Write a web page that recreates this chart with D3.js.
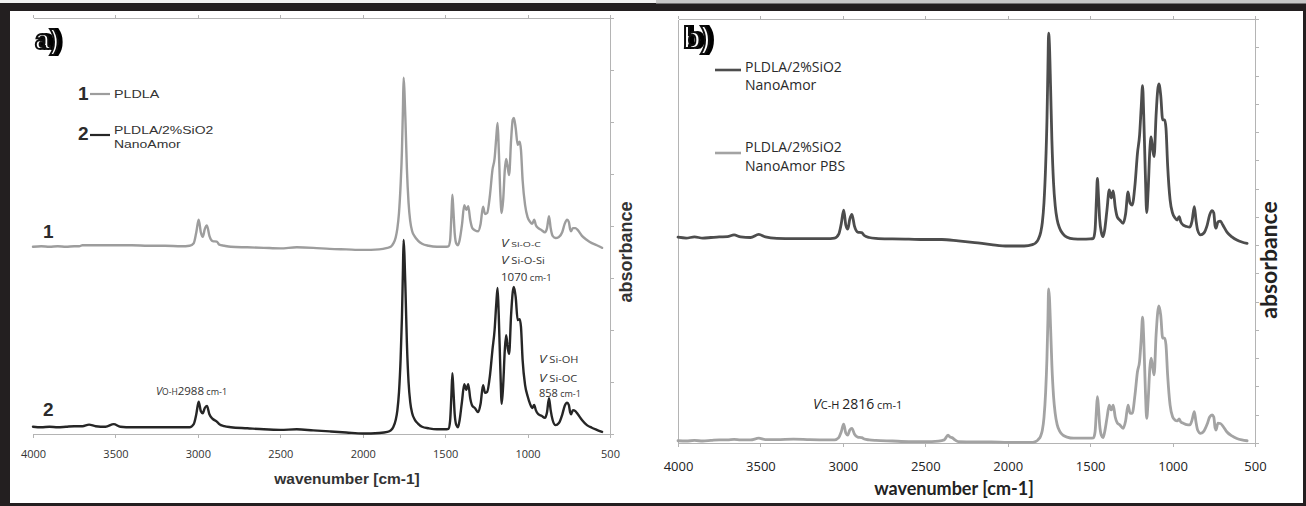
<!DOCTYPE html>
<html>
<head>
<meta charset="utf-8">
<script src="https://cdn.jsdelivr.net/npm/d3@7"></script>
<style>
  html, body { margin: 0; padding: 0; background: #231f20; overflow: hidden; }
  svg { display: block; }
</style>
</head>
<body>
<svg id="fig" width="1306" height="506"></svg>
<script>
// FTIR spectra: wavenumber [cm-1] vs absorbance (arbitrary units, stacked)
const wavenumberTicks = [4000, 3500, 3000, 2500, 2000, 1500, 1000, 500];

// a) 1 – PLDLA
const pldla = [[4000,3.60],[3950,3.61],[3900,3.60],[3850,3.61],[3800,3.60],[3750,3.61],[3720,3.61],[3700,3.63],[3600,3.63],[3500,3.63],[3400,3.63],[3300,3.62],[3200,3.62],[3100,3.61],[3050,3.62],[3025,3.67],[3010,3.87],[2995,4.12],[2982,3.88],[2970,3.79],[2958,3.94],[2945,4.01],[2930,3.81],[2910,3.71],[2885,3.70],[2870,3.64],[2840,3.62],[2800,3.60],[2700,3.59],[2600,3.58],[2500,3.57],[2400,3.59],[2300,3.58],[2200,3.56],[2100,3.55],[2000,3.54],[1900,3.55],[1850,3.58],[1830,3.60],[1815,3.66],[1800,3.78],[1790,3.95],[1780,4.25],[1770,4.80],[1762,5.45],[1756,6.25],[1752,6.85],[1747,6.60],[1740,5.95],[1732,5.10],[1722,4.45],[1712,4.10],[1700,3.90],[1685,3.80],[1665,3.72],[1640,3.66],[1600,3.62],[1550,3.60],[1500,3.60],[1480,3.61],[1470,3.72],[1462,4.20],[1456,4.60],[1450,4.30],[1442,3.86],[1432,3.66],[1422,3.63],[1412,3.73],[1398,4.02],[1384,4.40],[1372,4.31],[1360,4.38],[1348,4.12],[1335,3.96],[1320,3.92],[1300,3.90],[1285,4.04],[1270,4.37],[1258,4.23],[1245,4.25],[1228,4.60],[1213,5.08],[1200,5.30],[1190,5.70],[1182,5.98],[1175,5.50],[1165,4.60],[1157,4.25],[1148,4.50],[1138,5.08],[1130,5.29],[1120,5.12],[1112,4.98],[1100,5.65],[1090,6.04],[1083,6.08],[1072,5.88],[1060,5.56],[1048,5.62],[1040,5.46],[1030,4.88],[1015,4.40],[1000,4.17],[985,4.08],[972,4.04],[960,4.12],[950,4.02],[935,3.96],[915,3.92],[895,3.88],[882,3.96],[870,4.19],[860,3.96],[848,3.81],[830,3.77],[810,3.79],[790,3.88],[775,4.04],[760,4.12],[750,4.08],[742,3.94],[736,3.90],[725,3.96],[710,3.96],[695,3.92],[670,3.81],[640,3.73],[610,3.67],[580,3.63],[548,3.58]];

// a) 2 – PLDLA/2%SiO2 NanoAmor
const pldlaSiO2 = [[4000,0.14],[3950,0.13],[3900,0.14],[3850,0.13],[3800,0.14],[3750,0.15],[3700,0.15],[3660,0.18],[3620,0.15],[3560,0.14],[3510,0.19],[3470,0.14],[3400,0.13],[3300,0.13],[3200,0.13],[3100,0.13],[3050,0.13],[3025,0.19],[3010,0.37],[2995,0.62],[2982,0.44],[2970,0.40],[2958,0.50],[2945,0.54],[2930,0.38],[2910,0.29],[2885,0.24],[2870,0.19],[2840,0.15],[2800,0.13],[2700,0.11],[2600,0.09],[2500,0.08],[2400,0.09],[2300,0.07],[2200,0.05],[2100,0.03],[2000,0.01],[1900,0.02],[1850,0.04],[1830,0.07],[1815,0.13],[1800,0.27],[1790,0.45],[1780,0.80],[1770,1.45],[1762,2.25],[1756,3.15],[1752,3.73],[1747,3.45],[1740,2.70],[1732,1.75],[1722,1.00],[1712,0.62],[1700,0.40],[1685,0.28],[1665,0.20],[1640,0.14],[1600,0.11],[1550,0.09],[1500,0.09],[1480,0.10],[1470,0.25],[1462,0.75],[1456,1.17],[1450,0.85],[1442,0.38],[1432,0.17],[1422,0.13],[1412,0.27],[1398,0.62],[1384,0.96],[1372,0.85],[1360,0.96],[1348,0.69],[1335,0.54],[1320,0.50],[1300,0.42],[1285,0.58],[1270,0.94],[1258,0.79],[1245,0.81],[1228,1.13],[1213,1.62],[1200,2.00],[1190,2.50],[1182,2.81],[1175,2.30],[1165,1.23],[1157,0.58],[1148,0.94],[1138,1.62],[1130,1.90],[1120,1.65],[1112,1.54],[1100,2.29],[1090,2.73],[1083,2.83],[1072,2.63],[1060,2.19],[1048,2.21],[1040,2.06],[1030,1.42],[1015,0.94],[1000,0.73],[985,0.58],[972,0.50],[960,0.56],[950,0.46],[935,0.38],[915,0.35],[895,0.31],[882,0.42],[870,0.69],[860,0.46],[848,0.27],[830,0.17],[810,0.21],[790,0.37],[775,0.54],[760,0.60],[750,0.56],[742,0.42],[736,0.38],[725,0.46],[710,0.44],[695,0.38],[670,0.27],[640,0.17],[610,0.12],[580,0.08],[548,0.04]];

// b) PLDLA/2%SiO2 NanoAmor
const nanoAmor = [[4000,7.28],[3950,7.25],[3900,7.29],[3850,7.25],[3800,7.27],[3750,7.29],[3700,7.30],[3660,7.36],[3620,7.29],[3560,7.27],[3510,7.38],[3470,7.29],[3400,7.24],[3300,7.23],[3200,7.23],[3100,7.23],[3050,7.25],[3025,7.39],[3010,7.75],[2995,8.24],[2982,7.71],[2970,7.57],[2958,7.92],[2945,8.09],[2930,7.68],[2910,7.46],[2885,7.44],[2870,7.34],[2840,7.27],[2800,7.24],[2700,7.22],[2600,7.21],[2500,7.20],[2400,7.20],[2300,7.15],[2200,7.09],[2100,7.02],[2000,6.97],[1900,6.97],[1850,7.02],[1830,7.08],[1815,7.20],[1800,7.45],[1790,7.80],[1780,8.50],[1770,9.80],[1762,11.40],[1756,13.30],[1752,14.50],[1747,14.10],[1740,12.60],[1732,10.70],[1722,9.20],[1712,8.40],[1700,7.90],[1685,7.60],[1665,7.40],[1640,7.28],[1600,7.22],[1550,7.21],[1500,7.22],[1480,7.24],[1470,7.55],[1462,8.60],[1456,9.36],[1450,8.80],[1442,7.90],[1432,7.45],[1422,7.30],[1412,7.53],[1398,8.24],[1384,8.95],[1372,8.67],[1360,8.92],[1348,8.35],[1335,7.99],[1320,7.89],[1300,7.77],[1285,8.10],[1270,8.88],[1258,8.49],[1245,8.42],[1228,9.13],[1213,10.25],[1200,10.90],[1190,11.90],[1182,12.64],[1175,11.60],[1165,9.48],[1157,8.15],[1148,8.95],[1138,10.36],[1130,10.83],[1120,10.36],[1112,10.13],[1100,11.60],[1090,12.49],[1083,12.70],[1072,12.31],[1060,11.43],[1048,11.43],[1040,11.14],[1030,9.83],[1015,8.60],[1000,8.13],[985,7.96],[972,7.89],[960,8.01],[950,7.82],[935,7.71],[915,7.66],[895,7.64],[882,7.85],[868,8.36],[858,7.89],[848,7.53],[830,7.36],[810,7.43],[790,7.71],[775,8.07],[760,8.22],[750,8.14],[742,7.68],[736,7.60],[725,7.82],[710,7.85],[695,7.71],[670,7.46],[640,7.29],[610,7.18],[580,7.11],[548,7.06]];

// b) PLDLA/2%SiO2 NanoAmor PBS
const nanoAmorPBS = [[4000,0.08],[3950,0.07],[3900,0.09],[3850,0.07],[3800,0.09],[3750,0.11],[3700,0.11],[3660,0.13],[3620,0.11],[3560,0.11],[3510,0.17],[3470,0.12],[3400,0.12],[3300,0.14],[3200,0.12],[3100,0.11],[3050,0.11],[3025,0.19],[3010,0.39],[2995,0.67],[2982,0.35],[2970,0.28],[2958,0.46],[2945,0.52],[2930,0.32],[2910,0.21],[2885,0.19],[2870,0.14],[2840,0.11],[2800,0.09],[2700,0.07],[2600,0.05],[2500,0.05],[2420,0.07],[2385,0.11],[2362,0.28],[2350,0.21],[2338,0.19],[2320,0.11],[2300,0.05],[2200,0.04],[2100,0.04],[2000,0.02],[1900,0.02],[1850,0.02],[1830,0.05],[1815,0.12],[1800,0.25],[1790,0.45],[1780,0.90],[1770,1.80],[1762,3.00],[1756,4.40],[1752,5.45],[1747,5.15],[1740,4.10],[1732,2.75],[1722,1.65],[1712,1.05],[1700,0.65],[1685,0.42],[1665,0.28],[1640,0.21],[1600,0.17],[1550,0.17],[1500,0.17],[1480,0.18],[1470,0.40],[1462,1.15],[1456,1.64],[1450,1.30],[1442,0.62],[1432,0.27],[1422,0.19],[1412,0.39],[1398,0.88],[1384,1.34],[1372,1.17],[1360,1.34],[1348,0.92],[1335,0.71],[1320,0.64],[1300,0.52],[1285,0.78],[1270,1.34],[1258,1.06],[1245,1.05],[1228,1.70],[1213,2.52],[1200,2.90],[1190,3.70],[1182,4.45],[1175,3.70],[1165,1.87],[1157,0.87],[1148,1.52],[1138,2.65],[1130,3.00],[1120,2.65],[1112,2.41],[1100,3.82],[1090,4.63],[1083,4.85],[1072,4.53],[1060,3.71],[1048,3.71],[1040,3.47],[1030,2.41],[1015,1.34],[1000,0.93],[985,0.81],[972,0.78],[960,0.85],[950,0.74],[935,0.70],[915,0.65],[895,0.64],[882,0.81],[868,1.11],[858,0.74],[848,0.46],[830,0.34],[810,0.42],[790,0.67],[775,0.92],[760,0.99],[750,0.92],[742,0.53],[736,0.46],[725,0.70],[710,0.69],[695,0.60],[670,0.39],[640,0.25],[610,0.16],[580,0.11],[548,0.08]];

const W = 1306, H = 506;
const svg = d3.select('#fig');

// shadow used for the outlined panel letters
const defs = svg.append('defs');
const f = defs.append('filter').attr('id', 'letterShadow').attr('x', '-20%').attr('y', '-20%').attr('width', '160%').attr('height', '160%');
f.append('feOffset').attr('in', 'SourceAlpha').attr('dx', 4).attr('dy', 0).attr('result', 'off');
const fm = f.append('feMerge');
fm.append('feMergeNode').attr('in', 'off');
fm.append('feMergeNode').attr('in', 'SourceGraphic');

// page frame
svg.append('rect').attr('width', W).attr('height', H).attr('fill', '#231f20');
svg.append('rect').attr('x', 0).attr('y', 0).attr('width', 656).attr('height', 3).attr('fill', '#f2f2f2');
svg.append('rect').attr('x', 656).attr('y', 0).attr('width', W - 656).attr('height', 3.5).attr('fill', '#c8c8c8');
svg.append('rect').attr('x', 10).attr('y', 11).attr('width', 1293).attr('height', 492).attr('fill', '#ffffff');

const axisColor = '#b4b4b4';

function drawPanel(o) {
  const g = svg.append('g');
  const x = d3.scaleLinear().domain([4000, 500]).range([o.left, o.right]);
  const y = d3.scaleLinear().domain([0, o.yMax]).range([o.bottom, o.top]);

  const top = g.append('g').attr('transform', `translate(0,${o.top})`)
    .call(d3.axisTop(x).tickValues(wavenumberTicks).tickSize(3).tickSizeOuter(0).tickFormat(''));
  const right = g.append('g').attr('transform', `translate(${o.right},0)`)
    .call(d3.axisRight(y).tickValues(d3.range(0, o.yMax + 1)).tickSize(4).tickSizeOuter(0).tickFormat(''));
  const parts = [top, right];
  if (o.leftLine) {
    parts.push(g.append('g').attr('transform', `translate(${o.left},0)`)
      .call(d3.axisLeft(y).tickValues([]).tickSizeOuter(0)));
  }
  const bottom = g.append('g').attr('transform', `translate(0,${o.bottom})`)
    .call(d3.axisBottom(x).tickValues(wavenumberTicks).tickSize(4).tickSizeOuter(0)
      .tickPadding(o.tickPad).tickFormat(d3.format('d')));
  parts.push(bottom);
  parts.forEach(a => {
    a.selectAll('.domain, .tick line').attr('stroke', axisColor).attr('stroke-width', 1)
      .attr('shape-rendering', 'crispEdges');
  });
  bottom.selectAll('.tick text').attr('fill', o.tickColor)
    .style('font-family', o.tickFont).style('font-size', o.tickSize + 'px');

  const line = d3.line().x(d => x(d[0])).y(d => y(d[1])).curve(d3.curveMonotoneX);
  o.series.forEach(s => {
    g.append('path').datum(s.data).attr('d', line).attr('fill', 'none')
      .attr('stroke', s.color).attr('stroke-width', s.width)
      .attr('stroke-linejoin', 'round').attr('stroke-linecap', 'round');
  });
  return { g, x, y };
}

// ---------- panel a ----------
const A = drawPanel({
  left: 33, right: 610, top: 18, bottom: 434, yMax: 8, leftLine: false,
  tickPad: 12, tickColor: '#333', tickFont: '"Open Sans", sans-serif', tickSize: 11,
  series: [
    { data: pldla, color: '#9d9d9d', width: 2.4 },
    { data: pldlaSiO2, color: '#262626', width: 2.4 }
  ]
});

// ---------- panel b ----------
const B = drawPanel({
  left: 678, right: 1255, top: 19, bottom: 443, yMax: 15, leftLine: true,
  tickPad: 15, tickColor: '#222', tickFont: '"Open Sans", sans-serif', tickSize: 13,
  series: [
    { data: nanoAmor, color: '#4d4d4d', width: 2.8 },
    { data: nanoAmorPBS, color: '#a3a3a3', width: 2.8 }
  ]
});

// ---------- text: panel a ----------
const ta = A.g;
function stretched(parent, x, y, sx) {
  return parent.append('g').attr('transform', `translate(${x},${y}) scale(${sx},1)`);
}

ta.append('text').attr('x', 35).attr('y', 49).text('a)')
  .attr('fill', '#fff').attr('stroke', '#111').attr('stroke-width', 2)
  .attr('filter', 'url(#letterShadow)')
  .style('font-family', '"Liberation Sans", Arial, sans-serif').style('font-weight', 'bold').style('font-size', '27px');

const bigNum = { 'font-family': '"Liberation Sans", Arial, sans-serif', 'font-weight': 'bold', 'font-size': '19px' };
function styleAll(sel, st) { Object.entries(st).forEach(([k, v]) => sel.style(k, v)); return sel; }

styleAll(ta.append('text').attr('x', 78).attr('y', 100).attr('fill', '#2b2b2b').text('1'), bigNum);
styleAll(ta.append('text').attr('x', 78).attr('y', 140).attr('fill', '#2b2b2b').text('2'), bigNum);
styleAll(ta.append('text').attr('x', 43).attr('y', 238).attr('fill', '#2b2b2b').text('1'), bigNum);
styleAll(ta.append('text').attr('x', 43).attr('y', 416).attr('fill', '#2b2b2b').text('2'), bigNum);

ta.append('line').attr('x1', 90).attr('x2', 110).attr('y1', 94).attr('y2', 94).attr('stroke', '#9d9d9d').attr('stroke-width', 2.2);
ta.append('line').attr('x1', 90).attr('x2', 110).attr('y1', 135).attr('y2', 135).attr('stroke', '#262626').attr('stroke-width', 2.2);

const legA = { 'font-family': '"Liberation Sans", Arial, sans-serif', 'font-size': '11px' };
styleAll(stretched(ta, 114, 98, 1.3).append('text').attr('fill', '#333').text('PLDLA'), legA);
styleAll(stretched(ta, 114, 134, 1.27).append('text').attr('fill', '#333').text('PLDLA/2%SiO2'), legA);
styleAll(stretched(ta, 114, 148, 1.27).append('text').attr('fill', '#333').text('NanoAmor'), legA);

// band annotations
const annFont = '"Open Sans", sans-serif';
function band(parent, x, y, sx, parts) {
  const t = stretched(parent, x, y, sx).append('text').attr('fill', '#333').style('font-family', annFont);
  parts.forEach(p => {
    const ts = t.append('tspan').text(p[0]).style('font-size', p[1] + 'px');
    if (p[2]) ts.style('font-style', 'italic');
  });
  return t;
}
band(ta, 501, 247, 1.3, [['V', 10.5, true], [' Si-O-C', 8]]);
band(ta, 501, 264, 1.3, [['V', 10.5, true], [' Si-O-Si', 8.5]]);
band(ta, 501, 281, 1.05, [['1070', 11], [' cm-1', 9]]);
band(ta, 539, 363, 1.3, [['V', 10.5, true], [' Si-OH', 8.5]]);
band(ta, 539, 382, 1.3, [['V', 10.5, true], [' Si-OC', 8.5]]);
band(ta, 539, 397, 1.0, [['858', 11], [' cm-1', 9]]);
band(ta, 156, 395, 1.0, [['V', 11, true], ['O-H', 8.5], ['2988', 11.5], [' cm-1', 9]]);

ta.append('text').attr('x', 347).attr('y', 484).attr('text-anchor', 'middle').attr('fill', '#333')
  .style('font-family', '"Liberation Sans", Arial, sans-serif').style('font-weight', 'bold').style('font-size', '15.5px')
  .text('wavenumber [cm-1]');
ta.append('text').attr('transform', 'translate(632,252) rotate(-90)').attr('text-anchor', 'middle').attr('fill', '#333')
  .style('font-family', '"Liberation Sans", Arial, sans-serif').style('font-weight', 'bold').style('font-size', '18px')
  .text('absorbance');

// ---------- text: panel b ----------
const tb = B.g;
tb.append('text').attr('x', 683).attr('y', 48).text('b)')
  .attr('fill', '#fff').attr('stroke', '#111').attr('stroke-width', 2)
  .attr('filter', 'url(#letterShadow)')
  .style('font-family', '"Liberation Sans", Arial, sans-serif').style('font-weight', 'bold').style('font-size', '29px');

tb.append('line').attr('x1', 715).attr('x2', 741).attr('y1', 70).attr('y2', 70).attr('stroke', '#4d4d4d').attr('stroke-width', 2.6);
tb.append('line').attr('x1', 715).attr('x2', 741).attr('y1', 153).attr('y2', 153).attr('stroke', '#a3a3a3').attr('stroke-width', 2.6);
const legB = { 'font-family': '"Open Sans", sans-serif', 'font-size': '14px' };
styleAll(tb.append('text').attr('x', 745).attr('y', 72).attr('fill', '#2a2a2a').text('PLDLA/2%SiO2'), legB);
styleAll(tb.append('text').attr('x', 745).attr('y', 90).attr('fill', '#2a2a2a').text('NanoAmor'), legB);
styleAll(tb.append('text').attr('x', 745).attr('y', 152).attr('fill', '#2a2a2a').text('PLDLA/2%SiO2'), legB);
styleAll(tb.append('text').attr('x', 745).attr('y', 171).attr('fill', '#2a2a2a').text('NanoAmor PBS'), legB);

band(tb, 813, 409, 1.0, [['V', 14, true], ['C-H ', 11], ['2816', 14], [' cm-1', 11]]).attr('fill', '#222');

tb.append('text').attr('x', 954).attr('y', 495).attr('text-anchor', 'middle').attr('fill', '#222')
  .style('font-family', 'Lato, sans-serif').style('font-weight', 'bold').style('font-size', '18px')
  .text('wavenumber [cm-1]');
tb.append('text').attr('transform', 'translate(1277,260) rotate(-90)').attr('text-anchor', 'middle').attr('fill', '#222')
  .style('font-family', 'Lato, sans-serif').style('font-weight', 'bold').style('font-size', '23px')
  .text('absorbance');
</script>
</body>
</html>
